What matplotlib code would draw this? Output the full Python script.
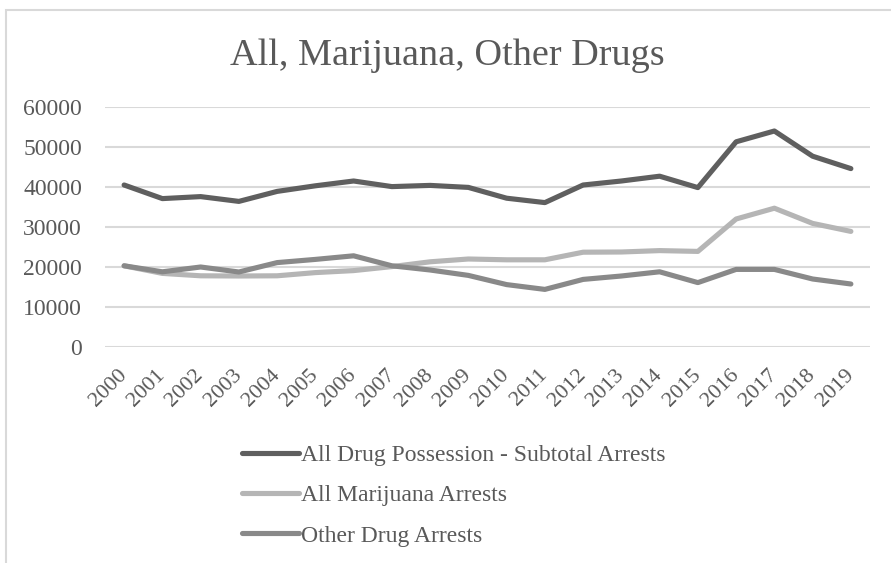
import matplotlib
matplotlib.use("Agg")
import matplotlib.pyplot as plt
from matplotlib.patches import Rectangle

years = [str(y) for y in range(2000, 2020)]
all_drug = [40500, 37100, 37600, 36400, 38900, 40300, 41500, 40100, 40400, 39900,
            37200, 36100, 40500, 41500, 42700, 39850, 51300, 54000, 47700, 44600]
marijuana = [20300, 18400, 17800, 17750, 17800, 18600, 19100, 20100, 21300, 22000,
             21800, 21800, 23700, 23750, 24100, 23900, 32000, 34700, 30900, 28900]
other = [20300, 18800, 20000, 18750, 21100, 21900, 22800, 20300, 19250, 17900,
         15600, 14400, 16900, 17750, 18800, 16100, 19400, 19400, 17000, 15750]
series_names = ["All Drug Possession - Subtotal Arrests", "All Marijuana Arrests", "Other Drug Arrests"]
title = "All, Marijuana, Other Drugs"
yticks = [0, 10000, 20000, 30000, 40000, 50000, 60000]

plt.rcParams['font.family'] = ['Liberation Serif', 'DejaVu Serif']
W, H = 891, 563
fig = plt.figure(figsize=(W/100, H/100), dpi=100)

# chart frame
fig.patches.append(Rectangle((6/W, -0.1), 1.0, 1 - 10/H + 0.1, transform=fig.transFigure,
                             fill=False, edgecolor='#d9d9d9', linewidth=1.5))

ax = fig.add_axes([105/W, 1 - 347/H, (870-105)/W, (347-107)/H])
x = list(range(len(years)))
colors = ['#5f5f5f', '#b5b5b5', '#898989']
lines = []
for vals, c, name in zip([all_drug, marijuana, other], colors, series_names):
    l, = ax.plot(x, vals, color=c, lw=3.7, solid_capstyle='round', solid_joinstyle='round', label=name)
    lines.append(l)

ax.set_xlim(-0.5, len(years) - 0.5)
ax.set_ylim(0, 60000)
ax.set_yticks(yticks)
ax.set_yticklabels([str(v) for v in yticks], fontsize=17, color='#595959')
ax.set_xticks(x)
ax.set_xticklabels(years, fontsize=16, color='#595959', rotation=45, ha='right', va='center',
                   rotation_mode='anchor')
ax.tick_params(axis='both', length=0)
ax.tick_params(axis='y', pad=16.5)
ax.tick_params(axis='x', pad=18)
ax.grid(axis='y', color='#d9d9d9', lw=1.5)
ax.set_axisbelow(True)
for s in ax.spines.values():
    s.set_visible(False)

fig.text(447/W, 1 - 65/H, title, ha='center', va='baseline', fontsize=27.5, color='#595959')

leg = fig.legend(handles=lines, labels=series_names, loc='upper left',
                 bbox_to_anchor=(221/W, 1 - 423/H), frameon=False, fontsize=17,
                 handlelength=2.4, handletextpad=0.08, labelspacing=0.8, labelcolor='#595959')

fig.savefig("out.png", dpi=100)
